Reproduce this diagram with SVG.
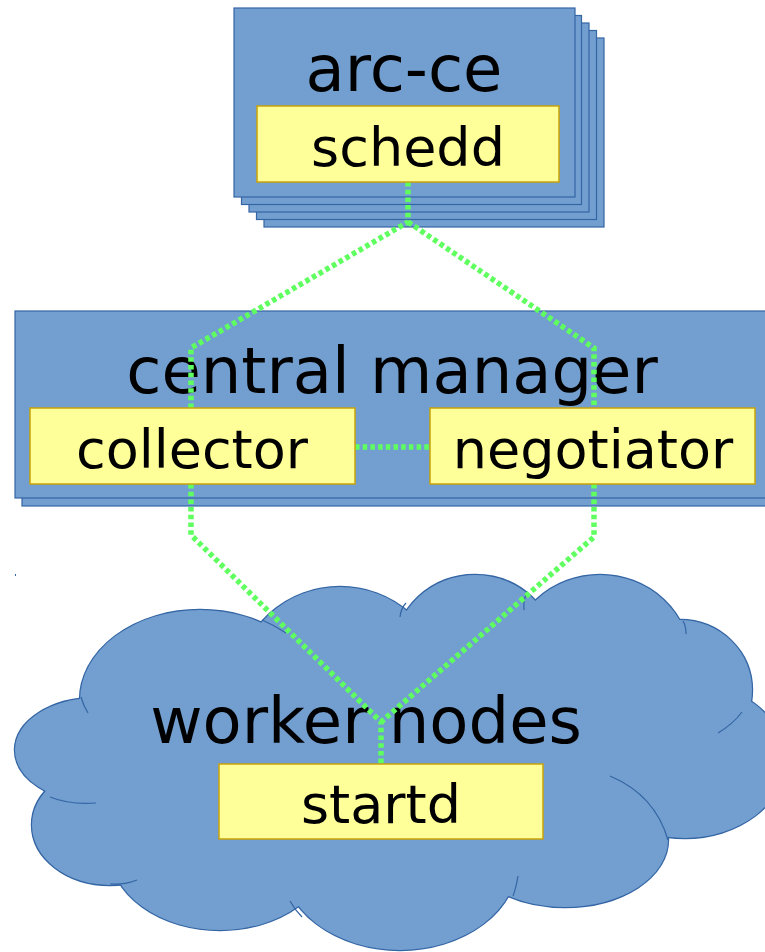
<svg xmlns="http://www.w3.org/2000/svg" width="765" height="952" viewBox="0 0 765 952">
<style>
.blue{fill:#729fcf;stroke:#3465a4;stroke-width:1.2}
.comp{fill:#ffff99;stroke:#c9a20a;stroke-width:1.5}
.title{font-family:"DejaVu Sans",sans-serif;font-size:64px;fill:#000;text-anchor:middle}
.label{font-family:"DejaVu Sans",sans-serif;font-size:54px;fill:#000;text-anchor:middle}
.conn{fill:none;stroke:#5eff5e;stroke-width:5.5;stroke-dasharray:4.5 3.2}
.lobe{fill:#729fcf;stroke:#3465a4;stroke-width:2.4}
.lobefill{fill:#729fcf;stroke:none}
.tail{fill:none;stroke:#3465a4;stroke-width:1.2}
</style>
<rect x="0" y="0" width="765" height="952" fill="#ffffff"/>

<g id="arc-ce">
  <rect class="blue" x="264" y="38" width="340" height="189"/>
  <rect class="blue" x="256.5" y="30.5" width="340" height="189"/>
  <rect class="blue" x="249" y="23" width="340" height="189"/>
  <rect class="blue" x="241.5" y="15.5" width="340" height="189"/>
  <rect class="blue" x="234" y="8" width="341" height="189"/>
  <text class="title" x="404" y="91">arc-ce</text>
</g>

<g id="central-manager">
  <rect class="blue" x="22" y="318" width="760" height="188"/>
  <rect class="blue" x="15" y="311" width="760" height="187"/>
  <text class="title" x="392" y="393">central manager</text>
</g>

<g id="worker-nodes">
  <g id="cloud-outline">
    <ellipse class="lobe" cx="200" cy="700" rx="120" ry="90"/>
    <ellipse class="lobe" cx="340" cy="680" rx="100" ry="93"/>
    <ellipse class="lobe" cx="475" cy="650" rx="80" ry="75"/>
    <ellipse class="lobe" cx="600" cy="660" rx="90" ry="85"/>
    <ellipse class="lobe" cx="680" cy="690" rx="72" ry="70"/>
    <ellipse class="lobe" cx="685" cy="760" rx="100" ry="78"/>
    <ellipse class="lobe" cx="565" cy="840" rx="103" ry="67"/>
    <ellipse class="lobe" cx="400" cy="860" rx="118" ry="90"/>
    <ellipse class="lobe" cx="220" cy="850" rx="110" ry="80"/>
    <ellipse class="lobe" cx="110" cy="825" rx="78" ry="60"/>
    <ellipse class="lobe" cx="95" cy="750" rx="80" ry="52"/>
  </g>
  <g id="cloud-fill">
    <ellipse class="lobefill" cx="200" cy="700" rx="120" ry="90"/>
    <ellipse class="lobefill" cx="340" cy="680" rx="100" ry="93"/>
    <ellipse class="lobefill" cx="475" cy="650" rx="80" ry="75"/>
    <ellipse class="lobefill" cx="600" cy="660" rx="90" ry="85"/>
    <ellipse class="lobefill" cx="680" cy="690" rx="72" ry="70"/>
    <ellipse class="lobefill" cx="685" cy="760" rx="100" ry="78"/>
    <ellipse class="lobefill" cx="565" cy="840" rx="103" ry="67"/>
    <ellipse class="lobefill" cx="400" cy="860" rx="118" ry="90"/>
    <ellipse class="lobefill" cx="220" cy="850" rx="110" ry="80"/>
    <ellipse class="lobefill" cx="110" cy="825" rx="78" ry="60"/>
    <ellipse class="lobefill" cx="95" cy="750" rx="80" ry="52"/>
    <ellipse class="lobefill" cx="400" cy="770" rx="260" ry="130"/>
  </g>
  <g id="cloud-tails">
    <path class="tail" d="M610,776 Q655,795 668,840"/>
    <path class="tail" d="M742,712 Q733,724 718,733"/>
    <path class="tail" d="M527,593 Q523,600 524,610"/>
    <path class="tail" d="M406,603 Q401,608 400,617"/>
    <path class="tail" d="M683,621 Q686,626 686,634"/>
    <path class="tail" d="M262,620 Q274,625 286,633"/>
    <path class="tail" d="M137,880 Q125,885 110,884"/>
    <path class="tail" d="M50,797 Q70,805 96,803"/>
    <path class="tail" d="M81,697 Q83,705 88,713"/>
    <path class="tail" d="M518,876 Q516,888 513,896"/>
    <path class="tail" d="M290,901 Q295,910 302,917"/>
  </g>
  <rect x="15" y="574" width="1" height="2" fill="#3465a4"/>
  <text class="title" x="366" y="743">worker nodes</text>
</g>

<g id="connectors">
  <path class="conn" d="M408,182 L408,222 L191,348 L191,408"/>
  <path class="conn" d="M408,222 L594,348 L594,408"/>
  <path class="conn" d="M191,484 L191,535 L381,722 L381,764"/>
  <path class="conn" d="M594,484 L594,537 L381,722"/>
  <path class="conn" d="M355,447 L430,447"/>
</g>

<g id="schedd">
  <rect class="comp" x="257" y="106" width="302" height="76"/>
  <text class="label" x="408" y="166">schedd</text>
</g>
<g id="collector">
  <rect class="comp" x="30" y="408" width="325" height="76"/>
  <text class="label" x="192" y="468">collector</text>
</g>
<g id="negotiator">
  <rect class="comp" x="430" y="408" width="325" height="76"/>
  <text class="label" x="593" y="468">negotiator</text>
</g>
<g id="startd">
  <rect class="comp" x="219" y="764" width="324" height="75"/>
  <text class="label" x="381" y="823">startd</text>
</g>
</svg>
